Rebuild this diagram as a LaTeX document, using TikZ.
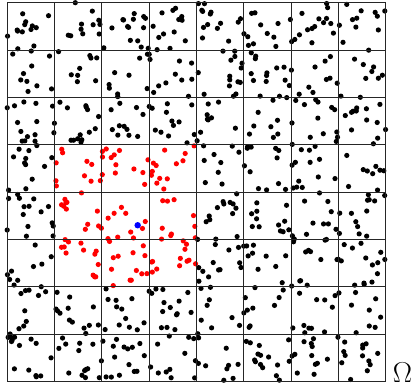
\documentclass[tikz,border=0pt]{standalone}
\usepackage{tikz}
\tikzset{
  cellgrid/.style={draw=black!85, line width=0.6pt},
  particle/.style={fill=black},
  probe/.style={fill=blue}
}
\newcommand{\dotr}{0.055}

\begin{document}
\begin{tikzpicture}
    \useasboundingbox (-0.148,-0.116) rectangle (8.659,8.057);
    \pgfmathsetseed{2718}

    % particles, cell by cell (neighbour cells of the probe in red)
    \foreach \i in {0,...,7}
      \foreach \j in {0,...,7} {
        \pgfmathtruncatemacro\inside{and(and(\i>0,\i<4),and(\j>1,\j<5))}
        \ifnum\inside=1 \def\dotcol{red}\else\def\dotcol{black}\fi
        \pgfmathtruncatemacro\npart{random(9,15)}
        \foreach \k in {1,...,\npart}
          \fill[\dotcol] (\i+rnd,\j+rnd) circle[radius=\dotr];
      }

    \draw[cellgrid] (0,0) grid (8,8);
    \fill[probe] (2.76,3.30) circle[radius=0.068];

    \node[anchor=base west, inner sep=0pt, font=\LARGE] (omega) at (8.14,-0.03) {$\Omega$};
\end{tikzpicture}
\end{document}
